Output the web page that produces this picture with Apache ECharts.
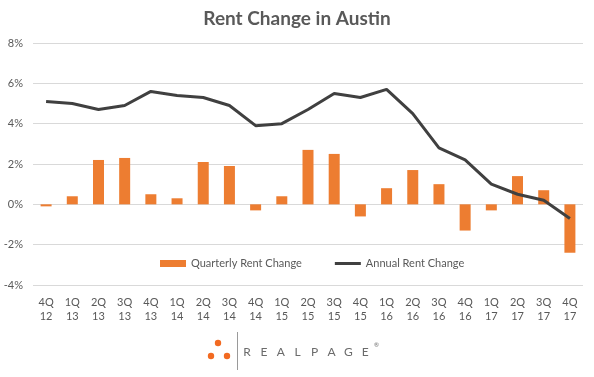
<!DOCTYPE html>
<html>
<head>
<meta charset="utf-8">
<script src="https://cdn.jsdelivr.net/npm/echarts@6/dist/echarts.min.js"></script>
<style>
  html, body { margin: 0; padding: 0; background: #fff; }
  #chart { width: 594px; height: 377px; }
</style>
</head>
<body>
<div id="chart"></div>
<script>
const quarters = ["4Q\n12", "1Q\n13", "2Q\n13", "3Q\n13", "4Q\n13", "1Q\n14", "2Q\n14", "3Q\n14", "4Q\n14",
  "1Q\n15", "2Q\n15", "3Q\n15", "4Q\n15", "1Q\n16", "2Q\n16", "3Q\n16", "4Q\n16", "1Q\n17", "2Q\n17", "3Q\n17", "4Q\n17"];
const quarterlyChange = [-0.1, 0.4, 2.2, 2.3, 0.5, 0.3, 2.1, 1.9, -0.3, 0.4, 2.7, 2.5, -0.6, 0.8, 1.7, 1.0, -1.3, -0.3, 1.4, 0.7, -2.4];
const annualChange = [5.1, 5.0, 4.7, 4.9, 5.6, 5.4, 5.3, 4.9, 3.9, 4.0, 4.7, 5.5, 5.3, 5.7, 4.5, 2.8, 2.2, 1.0, 0.5, 0.2, -0.7];

const textColor = "#595959";
const fontFamily = "Lato, 'Open Sans', sans-serif";
const logoOrange = "#F26A21";
const logoGray = "#6b6b6b";

// thin bar in a 26x7 box: the tiny specks at the corners only set the bounds
const lineIcon = "path://M0,0L0.01,0L0,0.01Z M0,2L26,2L26,5L0,5Z M26,7L25.99,7L26,6.99Z";

// logo wordmark, one letter at a time for the wide tracking
const logoLetters = "REALPAGE".split("").map((ch, i) => ({
  type: "text",
  x: 247 + i * 16.9,
  y: 352,
  style: { text: ch, fill: logoGray, font: "12px " + fontFamily, textAlign: "center", textVerticalAlign: "middle" },
}));

const chart = echarts.init(document.getElementById("chart"));

chart.setOption({
  animation: false,
  textStyle: { fontFamily: fontFamily },
  title: {
    text: "Rent Change in Austin",
    left: "center",
    top: 4,
    textStyle: { color: textColor, fontSize: 19, fontWeight: "bold", fontFamily: fontFamily },
  },
  legend: {
    top: 253,
    left: 155,
    itemGap: 33,
    itemWidth: 26,
    itemHeight: 7,
    textStyle: { color: textColor, fontSize: 11 },
    data: [
      { name: "Quarterly Rent Change", icon: "rect" },
      { name: "Annual Rent Change", icon: lineIcon, itemStyle: { color: "#404040" } },
    ],
  },
  grid: { left: 33, right: 11, top: 43, bottom: 92, containLabel: false },
  xAxis: {
    type: "category",
    data: quarters,
    axisLine: { show: false },
    axisTick: { show: false },
    axisLabel: { color: textColor, fontSize: 11, lineHeight: 14, margin: 10, interval: 0 },
  },
  yAxis: {
    type: "value",
    min: -4,
    max: 8,
    interval: 2,
    axisLine: { show: false },
    axisTick: { show: false },
    axisLabel: { color: textColor, fontSize: 11, formatter: "{value}%", margin: 10 },
    splitLine: { lineStyle: { color: "#d9d9d9", width: 1 } },
  },
  series: [
    {
      name: "Quarterly Rent Change",
      type: "bar",
      data: quarterlyChange,
      barWidth: 11,
      itemStyle: { color: "#ED7D31" },
    },
    {
      name: "Annual Rent Change",
      type: "line",
      data: annualChange,
      symbol: "none",
      lineStyle: { color: "#404040", width: 3 },
      itemStyle: { color: "#404040" },
    },
  ],
  graphic: [
    { type: "circle", shape: { cx: 218, cy: 343, r: 3.2 }, style: { fill: logoOrange } },
    { type: "circle", shape: { cx: 211, cy: 356, r: 3.2 }, style: { fill: logoOrange } },
    { type: "circle", shape: { cx: 227, cy: 356, r: 3.2 }, style: { fill: logoOrange } },
    { type: "line", shape: { x1: 237.5, y1: 332, x2: 237.5, y2: 370 }, style: { stroke: "#9a9a9a", lineWidth: 1 } },
    ...logoLetters,
    { type: "text", x: 374, y: 342, style: { text: "®", fill: logoGray, font: "6px " + fontFamily } },
  ],
});
</script>
</body>
</html>
